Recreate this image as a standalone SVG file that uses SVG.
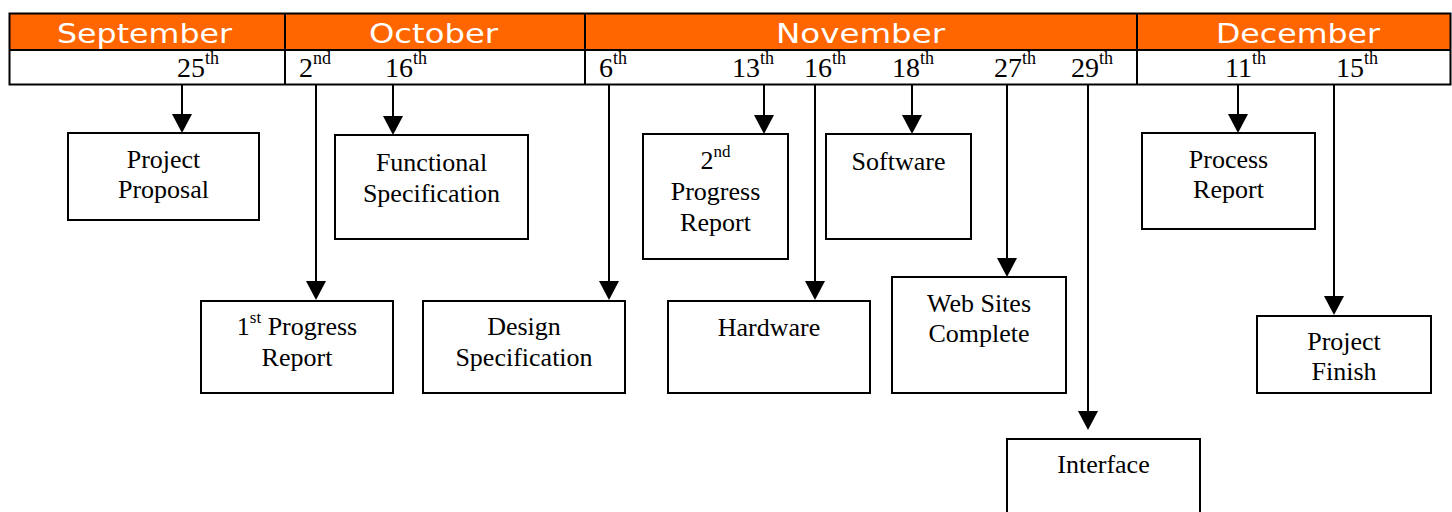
<svg xmlns="http://www.w3.org/2000/svg" width="1452" height="512" viewBox="0 0 1452 512">
  <style>
    .month { font-family: "DejaVu Sans", "Liberation Sans", sans-serif; font-size: 27px; fill: #ffffff; }
    .date { font-family: "Liberation Serif", "Times New Roman", serif; font-size: 28px; fill: #000000; }
    .date .sup { font-size: 18px; }
    .sup { font-size: 17px; }
    .box { fill: #ffffff; stroke: #000000; stroke-width: 2; }
    .label { font-family: "Liberation Serif", "Times New Roman", serif; font-size: 26px; fill: #000000; text-anchor: middle; }
    .conn { stroke: #000000; stroke-width: 2; fill: none; marker-end: url(#arrow); }
    .grid { stroke: #000000; stroke-width: 2; fill: none; }
  </style>
  <defs>
    <marker id="arrow" markerUnits="userSpaceOnUse" markerWidth="19" markerHeight="20" viewBox="0 0 19 20" refX="10" refY="10" orient="auto">
      <path d="M0,0 L19,10 L0,20 Z" fill="#000000"/>
    </marker>
  </defs>

  <!-- month / date header -->
  <g id="timeline">
    <rect x="9" y="13" width="1442" height="37" fill="#ff6600"/>
    <rect x="9" y="50" width="1442" height="35" fill="#ffffff"/>
    <rect x="9.5" y="13.5" width="1441" height="71" class="grid"/>
    <line x1="9" y1="50" x2="1451" y2="50" class="grid"/>
    <line x1="285" y1="13" x2="285" y2="85" class="grid"/>
    <line x1="585" y1="13" x2="585" y2="85" class="grid"/>
    <line x1="1137" y1="13" x2="1137" y2="85" class="grid"/>

    <text class="month" x="57" y="43" textLength="175" lengthAdjust="spacingAndGlyphs">September</text>
    <text class="month" x="369" y="43" textLength="129" lengthAdjust="spacingAndGlyphs">October</text>
    <text class="month" x="776" y="43" textLength="169" lengthAdjust="spacingAndGlyphs">November</text>
    <text class="month" x="1216" y="43" textLength="164" lengthAdjust="spacingAndGlyphs">December</text>

    <text class="date" x="177" y="77">25<tspan class="sup" dy="-13">th</tspan></text>
    <text class="date" x="299" y="77">2<tspan class="sup" dy="-13">nd</tspan></text>
    <text class="date" x="385" y="77">16<tspan class="sup" dy="-13">th</tspan></text>
    <text class="date" x="599" y="77">6<tspan class="sup" dy="-13">th</tspan></text>
    <text class="date" x="732" y="77">13<tspan class="sup" dy="-13">th</tspan></text>
    <text class="date" x="804" y="77">16<tspan class="sup" dy="-13">th</tspan></text>
    <text class="date" x="892" y="77">18<tspan class="sup" dy="-13">th</tspan></text>
    <text class="date" x="994" y="77">27<tspan class="sup" dy="-13">th</tspan></text>
    <text class="date" x="1071" y="77">29<tspan class="sup" dy="-13">th</tspan></text>
    <text class="date" x="1225" y="77">11<tspan class="sup" dy="-13">th</tspan></text>
    <text class="date" x="1336" y="77">15<tspan class="sup" dy="-13">th</tspan></text>
  </g>

  <!-- connectors from dates down to milestones -->
  <g id="connectors">
    <line class="conn" x1="182" y1="85" x2="182" y2="124"/>
    <line class="conn" x1="316" y1="85" x2="316" y2="291"/>
    <line class="conn" x1="393" y1="85" x2="393" y2="126"/>
    <line class="conn" x1="609" y1="85" x2="609" y2="291"/>
    <line class="conn" x1="764" y1="85" x2="764" y2="125"/>
    <line class="conn" x1="815" y1="85" x2="815" y2="291"/>
    <line class="conn" x1="912" y1="85" x2="912" y2="125"/>
    <line class="conn" x1="1007" y1="85" x2="1007" y2="268"/>
    <line class="conn" x1="1088" y1="85" x2="1088" y2="421"/>
    <line class="conn" x1="1238" y1="85" x2="1238" y2="124"/>
    <line class="conn" x1="1334" y1="85" x2="1334" y2="306"/>
  </g>

  <!-- milestones -->
  <g id="project-proposal">
    <rect class="box" x="68" y="133" width="191" height="87"/>
    <text class="label" x="163.5" y="168">Project</text>
    <text class="label" x="163.5" y="198">Proposal</text>
  </g>
  <g id="functional-specification">
    <rect class="box" x="335" y="135" width="193" height="104"/>
    <text class="label" x="431.5" y="171">Functional</text>
    <text class="label" x="431.5" y="202">Specification</text>
  </g>
  <g id="first-progress-report">
    <rect class="box" x="201" y="301" width="192" height="92"/>
    <text class="label" x="297" y="335">1<tspan class="sup" dy="-12">st</tspan><tspan dy="12"> Progress</tspan></text>
    <text class="label" x="297" y="366">Report</text>
  </g>
  <g id="design-specification">
    <rect class="box" x="423" y="301" width="202" height="92"/>
    <text class="label" x="524" y="335">Design</text>
    <text class="label" x="524" y="366">Specification</text>
  </g>
  <g id="second-progress-report">
    <rect class="box" x="643" y="134" width="145" height="125"/>
    <text class="label" x="715.5" y="169">2<tspan class="sup" dy="-12">nd</tspan></text>
    <text class="label" x="715.5" y="200">Progress</text>
    <text class="label" x="715.5" y="231">Report</text>
  </g>
  <g id="software">
    <rect class="box" x="826" y="134" width="145" height="105"/>
    <text class="label" x="898.5" y="170">Software</text>
  </g>
  <g id="hardware">
    <rect class="box" x="668" y="301" width="202" height="92"/>
    <text class="label" x="769" y="336">Hardware</text>
  </g>
  <g id="web-sites-complete">
    <rect class="box" x="892" y="277" width="174" height="116"/>
    <text class="label" x="979" y="312">Web Sites</text>
    <text class="label" x="979" y="342">Complete</text>
  </g>
  <g id="interface">
    <rect class="box" x="1007" y="439" width="193" height="90"/>
    <text class="label" x="1103.5" y="473">Interface</text>
  </g>
  <g id="process-report">
    <rect class="box" x="1142" y="133" width="173" height="96"/>
    <text class="label" x="1228.5" y="168">Process</text>
    <text class="label" x="1228.5" y="198">Report</text>
  </g>
  <g id="project-finish">
    <rect class="box" x="1257" y="316" width="174" height="77"/>
    <text class="label" x="1344" y="350">Project</text>
    <text class="label" x="1344" y="380">Finish</text>
  </g>
</svg>
